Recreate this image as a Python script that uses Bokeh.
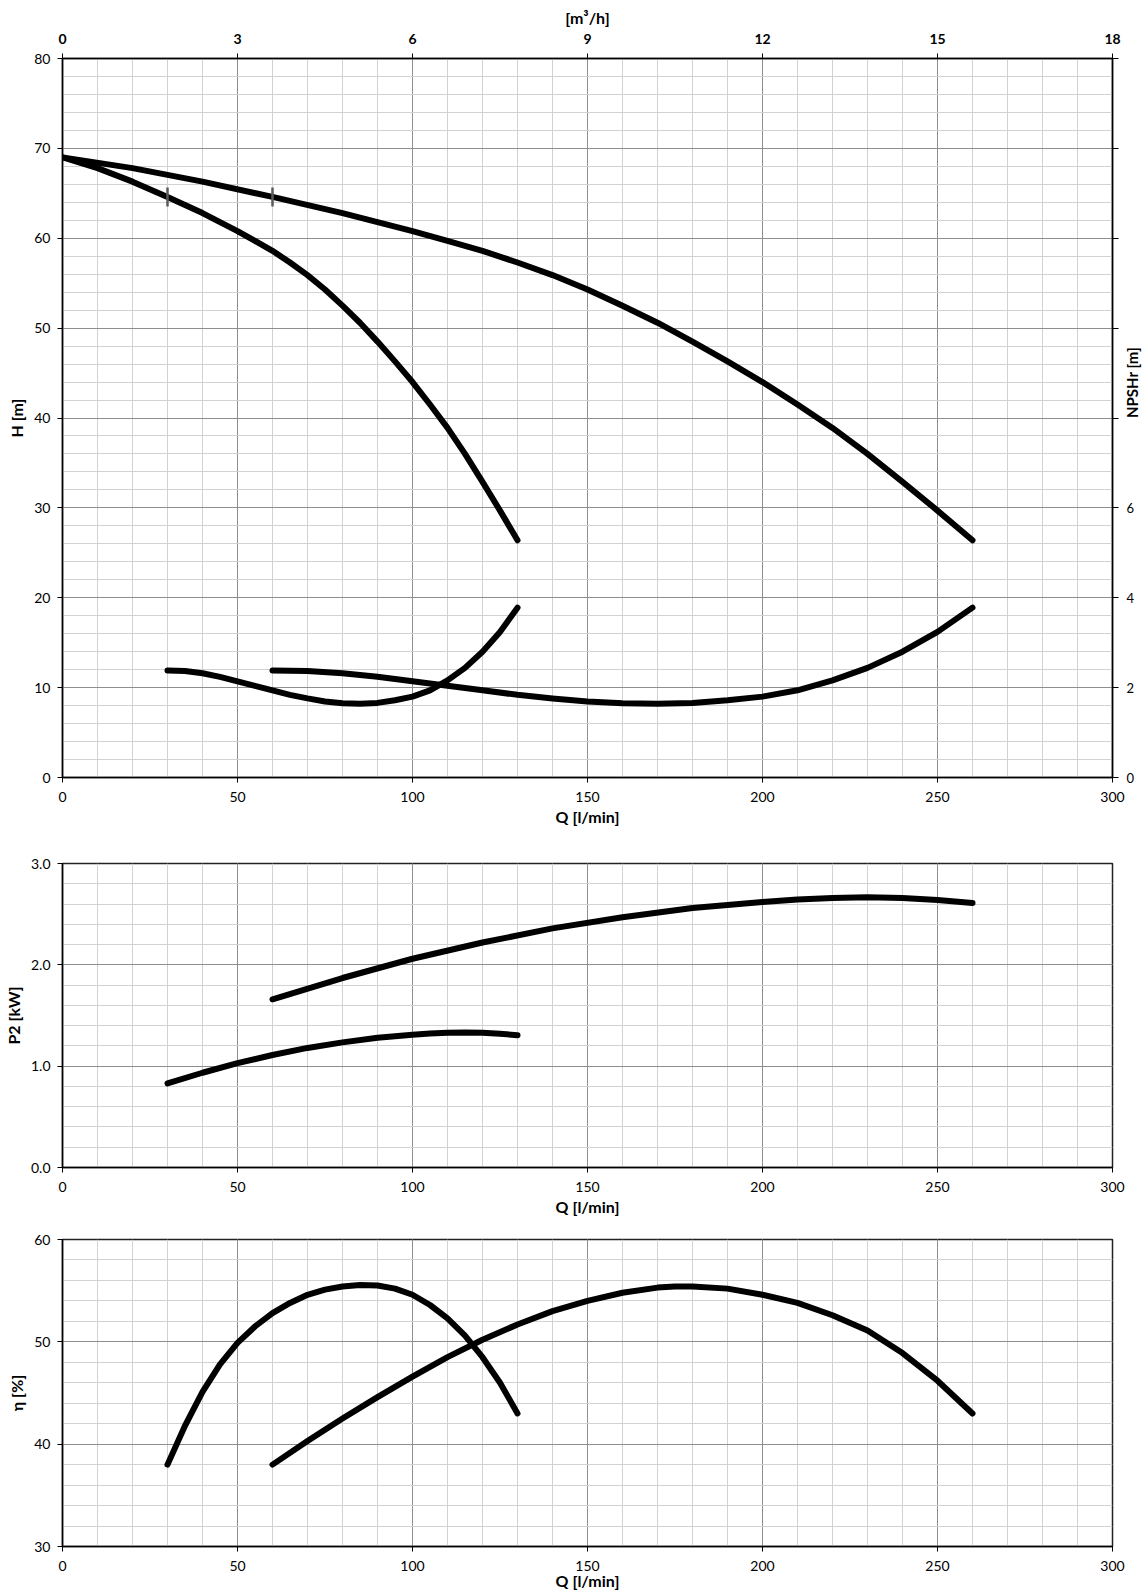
import math
from bokeh.plotting import figure
from bokeh.models import Range1d, LinearAxis, FixedTicker, CustomJSTickFormatter, PrintfTickFormatter
from bokeh.layouts import column
from bokeh.embed import file_html
from bokeh.resources import INLINE

# ---------------- data ----------------
# Head curves H [m] vs Q [l/min]
q_h1 = [0, 10, 20, 30, 40, 50, 55, 60, 65, 70, 75, 80, 85, 90, 95, 100, 105, 110, 115, 120,
        125, 130]
h1 = [69.0, 67.8, 66.3, 64.6, 62.8, 60.8, 59.7, 58.6, 57.3, 55.9, 54.3, 52.5, 50.6, 48.5, 46.3,
      44.0, 41.5, 38.9, 36.0, 32.9, 29.7, 26.4]
q_h2 = [0, 20, 40, 60, 80, 100, 110, 120, 130, 140, 150, 160, 170, 180, 190, 200, 210, 220,
        230, 240, 250, 260]
h2 = [69.0, 67.8, 66.3, 64.6, 62.8, 60.8, 59.7, 58.6, 57.3, 55.9, 54.3, 52.5, 50.6, 48.5, 46.3,
      44.0, 41.5, 38.9, 36.0, 32.9, 29.7, 26.4]

# NPSHr [m] vs Q [l/min]
q_n1 = [30, 35, 40, 45, 50, 55, 60, 65, 70, 75, 80, 85, 90, 95, 100, 105, 110, 115, 120, 125, 130]
npsh1 = [2.38, 2.37, 2.32, 2.24, 2.14, 2.04, 1.94, 1.84, 1.76, 1.69, 1.65, 1.64, 1.66, 1.72,
         1.80, 1.94, 2.16, 2.44, 2.80, 3.24, 3.78]
q_n2 = [60, 70, 80, 90, 100, 110, 120, 130, 140, 150, 160, 170, 180, 190, 200, 210, 220, 230,
        240, 250, 260]
npsh2 = [2.38, 2.37, 2.32, 2.24, 2.14, 2.04, 1.94, 1.84, 1.76, 1.69, 1.65, 1.64, 1.66, 1.72,
         1.80, 1.94, 2.16, 2.44, 2.80, 3.24, 3.78]

# Duty-range markers on head curves
mark_q = [30, 60]
mark_h = [64.6, 64.6]

# Shaft power P2 [kW]
q_p1 = [30, 40, 50, 60, 70, 80, 90, 100, 105, 110, 115, 120, 125, 130]
p2_1 = [0.83, 0.935, 1.03, 1.11, 1.18, 1.235, 1.28, 1.31, 1.322, 1.330, 1.333, 1.330, 1.320, 1.305]
q_p2 = [60, 80, 100, 120, 140, 160, 180, 200, 210, 220, 230, 240, 250, 260]
p2_2 = [1.66, 1.87, 2.06, 2.22, 2.36, 2.47, 2.56, 2.62, 2.644, 2.660, 2.666, 2.660, 2.640, 2.610]

# Efficiency eta [%]
q_e1 = [30, 35, 40, 45, 50, 55, 60, 65, 70, 75, 80, 85, 90, 95, 100, 105, 110, 115, 120, 125, 130]
eta1 = [38.0, 41.8, 45.1, 47.8, 49.9, 51.5, 52.8, 53.8, 54.6, 55.1, 55.4, 55.55, 55.5, 55.2,
        54.6, 53.6, 52.3, 50.6, 48.5, 46.0, 43.0]
q_e2 = [60, 70, 80, 90, 100, 110, 120, 130, 140, 150, 160, 170, 175, 180, 190, 200, 210, 220,
        230, 240, 250, 260]
eta2 = [38.0, 40.3, 42.5, 44.6, 46.6, 48.5, 50.2, 51.7, 53.0, 54.0, 54.8, 55.3, 55.4, 55.4,
        55.2, 54.6, 53.8, 52.6, 51.1, 48.9, 46.2, 43.0]

# ticks
q_ticks = [0, 50, 100, 150, 200, 250, 300]
q_minor = list(range(0, 301, 10))
m3h_ticks = [0, 3, 6, 9, 12, 15, 18]
h_ticks = list(range(0, 81, 10))
h_minor = list(range(0, 81, 2))
npsh_ticks = list(range(0, 17, 2))
p_ticks = [0.0, 1.0, 2.0, 3.0]
p_minor = [i * 0.2 for i in range(16)]
e_ticks = [30, 40, 50, 60]
e_minor = list(range(30, 61, 2))

FONT = "Lato"
MAJOR_GRID = "#8e8e8e"
MINOR_GRID = "#d2d2d2"
LINE_W = 6
FRAME_W = 1050


def style_axis(ax, bold_labels=False, label_size="14px", title_size="16px"):
    ax.axis_line_color = "black"
    ax.axis_line_width = 1.5
    ax.major_tick_line_color = "black"
    ax.major_tick_out = 5
    ax.major_tick_in = 0
    ax.minor_tick_line_color = None
    ax.major_label_text_font = FONT
    ax.major_label_text_font_size = label_size
    ax.major_label_text_color = "black"
    ax.major_label_text_font_style = "bold" if bold_labels else "normal"
    ax.axis_label_text_font = FONT
    ax.axis_label_text_font_size = title_size
    ax.axis_label_text_font_style = "bold"
    ax.axis_label_text_color = "black"


def make_fig(frame_h, yr, yticks, yminor, ylabel, border_top, border_bottom, xlabel_standoff=2):
    p = figure(frame_width=FRAME_W, frame_height=frame_h,
               x_range=Range1d(0, 300), y_range=Range1d(*yr),
               output_backend="svg", toolbar_location=None,
               min_border_left=62, min_border_right=30,
               min_border_top=border_top, min_border_bottom=border_bottom)
    p.background_fill_color = "white"
    p.border_fill_color = "white"
    p.outline_line_color = "#222222"
    p.outline_line_width = 1.5
    p.xaxis.ticker = FixedTicker(ticks=q_ticks, minor_ticks=q_minor)
    p.yaxis.ticker = FixedTicker(ticks=yticks, minor_ticks=yminor)
    p.xaxis.axis_label = "Q [l/min]"
    p.yaxis.axis_label = ylabel
    style_axis(p.xaxis[0])
    style_axis(p.yaxis[0])
    p.xaxis.major_label_standoff = 9
    p.xaxis.axis_label_standoff = xlabel_standoff
    p.yaxis.major_label_standoff = 7
    p.yaxis.axis_label_standoff = 5
    for g in (p.xgrid[0], p.ygrid[0]):
        g.grid_line_color = MAJOR_GRID
        g.grid_line_width = 1
        g.minor_grid_line_color = MINOR_GRID
        g.minor_grid_line_width = 1
    return p


# ---------------- top: H / NPSHr ----------------
p1 = make_fig(719, (0, 80), h_ticks, h_minor, "H [m]", 58, 56)
p1.extra_x_ranges = {"m3h": Range1d(0, 18)}
p1.extra_y_ranges = {"npsh": Range1d(0, 16)}
top_ax = LinearAxis(x_range_name="m3h", axis_label="[m³/h]",
                    ticker=FixedTicker(ticks=m3h_ticks, minor_ticks=[]))
style_axis(top_ax, bold_labels=True)
top_ax.major_label_standoff = 10
top_ax.axis_label_standoff = 4
p1.add_layout(top_ax, "above")
right_ax = LinearAxis(y_range_name="npsh", axis_label="NPSHr [m]",
                      ticker=FixedTicker(ticks=npsh_ticks, minor_ticks=[]),
                      formatter=CustomJSTickFormatter(code="return tick <= 6 ? String(tick) : '';"))
style_axis(right_ax, label_size="13px", title_size="15px")
right_ax.major_tick_out = 6
right_ax.major_label_standoff = 8
right_ax.axis_label_standoff = -5
if hasattr(right_ax, "axis_label_orientation"):
    right_ax.axis_label_orientation = math.pi / 2
p1.add_layout(right_ax, "right")

for qx, hy in ((q_h1, h1), (q_h2, h2)):
    p1.line(qx, hy, line_color="black", line_width=LINE_W, line_cap="round", line_join="round")
for qx, ny in ((q_n1, npsh1), (q_n2, npsh2)):
    p1.line(qx, ny, y_range_name="npsh", line_color="black", line_width=LINE_W,
            line_cap="round", line_join="round")
p1.scatter(mark_q, mark_h, marker="dash", angle=1.5708, size=19,
           line_color="#5a5a5a", line_width=2.5)

# ---------------- middle: P2 ----------------
p2 = make_fig(304, (0, 3), p_ticks, p_minor, "P2 [kW]", 30, 53)
p2.yaxis.formatter = PrintfTickFormatter(format="%.1f")
for qx, py in ((q_p1, p2_1), (q_p2, p2_2)):
    p2.line(qx, py, line_color="black", line_width=LINE_W, line_cap="round", line_join="round")

# ---------------- bottom: efficiency ----------------
p3 = make_fig(307, (30, 60), e_ticks, e_minor, "η [%]", 19, 47, xlabel_standoff=-3)
for qx, ey in ((q_e1, eta1), (q_e2, eta2)):
    p3.line(qx, ey, line_color="black", line_width=LINE_W, line_cap="round", line_join="round")

layout = column(p1, p2, p3, spacing=0)
open("out.html", "w").write(file_html(layout, INLINE))
